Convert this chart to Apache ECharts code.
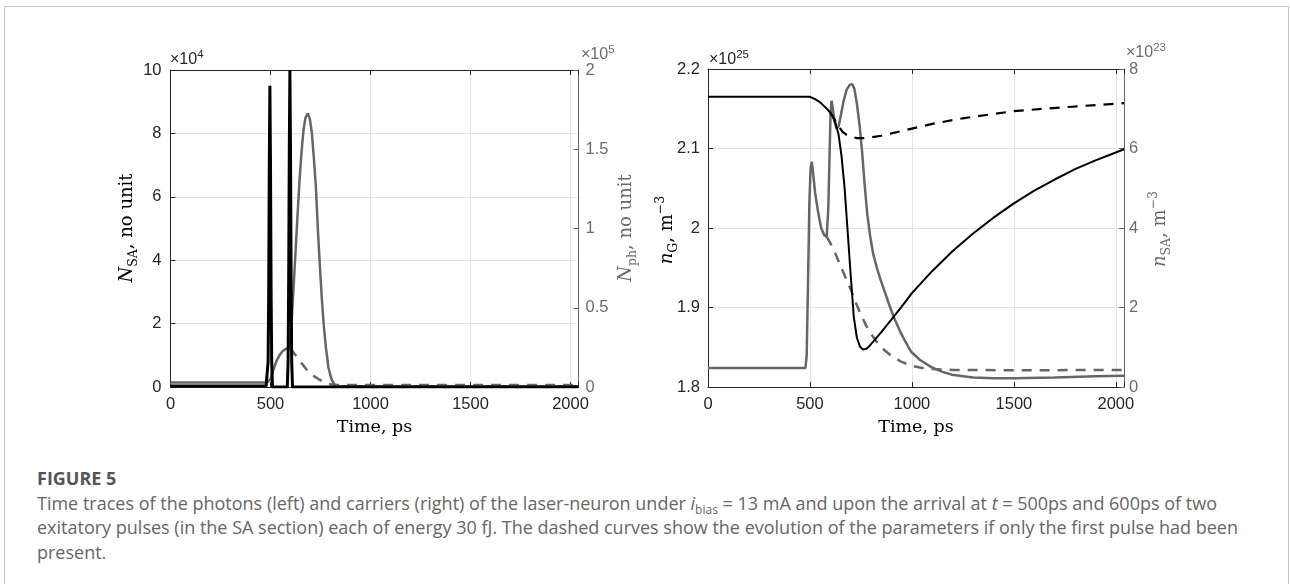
<!DOCTYPE html>
<html>
<head>
<meta charset="utf-8">
<script src="https://cdn.jsdelivr.net/npm/echarts/dist/echarts.min.js"></script>
<style>
html,body{margin:0;padding:0;background:#fff;}
#wrap{position:relative;width:1290px;height:584px;overflow:hidden;background:#fff;}
#frame{position:absolute;left:4px;top:6px;width:1285px;height:640px;border:1px solid #c4c4c4;box-sizing:border-box;}
#chart{position:absolute;left:0;top:0;width:1290px;height:450px;}
#cap{position:absolute;left:37px;top:466px;width:1250px;font-family:'Open Sans','Noto Sans',sans-serif;font-size:18px;line-height:24.5px;color:#666;white-space:nowrap;}
#cap b{font-weight:700;color:#555;}
#cap sub{font-size:12px;vertical-align:-4px;line-height:0;}
</style>
</head>
<body>
<div id="wrap">
<div id="frame"></div>
<div id="chart"></div>
<div id="cap"><b>FIGURE 5</b><br>Time traces of the photons (left) and carriers (right) of the laser-neuron under <i>i</i><sub>bias</sub> = 13 mA and upon the arrival at <i>t</i> = 500ps and 600ps of two<br>exitatory pulses (in the SA section) each of energy 30 fJ. The dashed curves show the evolution of the parameters if only the first pulse had been<br>present.</div>
</div>
<script>
// ---------- data (time in ps) ----------
const xTicks = [0, 500, 1000, 1500, 2000];
const xMax = 2040;
const leftPlotLeftTicks = [0, 2, 4, 6, 8, 10];          // N_SA ×10^4
const leftPlotRightTicks = [0, 0.5, 1, 1.5, 2];          // N_ph ×10^5
const rightPlotLeftTicks = [1.8, 1.9, 2, 2.1, 2.2];      // n_G ×10^25
const rightPlotRightTicks = [0, 2, 4, 6, 8];             // n_SA ×10^23

// Left plot: N_SA (black, ×10^4)
const tNSA = [0, 478, 484, 488, 491, 494, 497, 500, 503, 506, 510, 584, 588, 591, 594, 597, 600, 603, 606, 610, 2040];
const vNSA = [0.03, 0.03, 0.05, 0.8, 3.0, 7.0, 9.5, 7.0, 3.0, 0.8, 0, 0, 0.8, 3.5, 7.5, 10, 7.5, 3.5, 0.8, 0, 0];

// Left plot: N_ph (grey, ×10^5), both pulses
const tNph = [0, 482, 490, 500, 515, 530, 545, 560, 575, 590, 598, 605, 615, 625, 635, 645, 655, 665, 675, 687, 697, 707, 717, 727, 737, 747, 757, 767, 777, 790, 805, 820, 840, 2040];
const vNph = [0.028, 0.028, 0.032, 0.05, 0.11, 0.165, 0.2, 0.225, 0.24, 0.245, 0.27, 0.4, 0.62, 0.85, 1.08, 1.3, 1.48, 1.62, 1.7, 1.726, 1.69, 1.6, 1.44, 1.26, 0.99, 0.76, 0.55, 0.38, 0.25, 0.12, 0.05, 0.015, 0.005, 0.005];

// Left plot: N_ph (grey dashed), first pulse only
const tNph1 = [598, 620, 650, 680, 710, 740, 770, 800, 830, 860, 2040];
const vNph1 = [0.245, 0.21, 0.16, 0.11, 0.075, 0.05, 0.03, 0.018, 0.013, 0.012, 0.012];

// Right plot: n_G (black, ×10^25), both pulses
const tnG = [0, 500, 525, 550, 575, 600, 610, 625, 640, 655, 670, 685, 700, 715, 730, 745, 760, 775, 790, 810, 850, 900, 950, 1000, 1100, 1200, 1300, 1400, 1500, 1600, 1700, 1800, 1900, 2000, 2040];
const vnG = [2.165, 2.165, 2.162, 2.158, 2.152, 2.145, 2.141, 2.132, 2.118, 2.09, 2.05, 1.995, 1.94, 1.888, 1.862, 1.851, 1.847, 1.848, 1.851, 1.857, 1.869, 1.885, 1.901, 1.918, 1.946, 1.971, 1.993, 2.013, 2.031, 2.047, 2.061, 2.074, 2.085, 2.095, 2.099];

// Right plot: n_G (black dashed), first pulse only
const tnG1 = [600, 620, 640, 660, 680, 700, 730, 760, 800, 850, 900, 1000, 1100, 1250, 1500, 1750, 2040];
const vnG1 = [2.145, 2.137, 2.128, 2.121, 2.117, 2.115, 2.113, 2.113, 2.114, 2.116, 2.119, 2.125, 2.131, 2.138, 2.147, 2.152, 2.157];

// Right plot: n_SA (grey, ×10^23), both pulses
const tnSA = [0, 478, 484, 490, 497, 503, 509, 515, 525, 540, 555, 570, 582, 590, 596, 601, 606, 612, 620, 630, 640, 652, 665, 680, 695, 707, 718, 731, 744, 756, 768, 781, 795, 810, 828, 846, 870, 890, 912, 940, 970, 997, 1040, 1095, 1150, 1195, 1300, 1400, 1500, 1700, 1900, 2040];
const vnSA = [0.48, 0.48, 0.8, 2.5, 4.6, 5.5, 5.67, 5.4, 4.9, 4.4, 4.0, 3.82, 3.78, 4.5, 5.8, 6.9, 7.2, 7.0, 6.7, 6.5, 6.55, 6.85, 7.2, 7.48, 7.6, 7.62, 7.5, 7.1, 6.55, 5.9, 5.1, 4.35, 3.8, 3.35, 3.0, 2.7, 2.35, 2.05, 1.75, 1.42, 1.12, 0.88, 0.68, 0.5, 0.38, 0.31, 0.24, 0.22, 0.22, 0.24, 0.27, 0.28];

// Right plot: n_SA (grey dashed), first pulse only
const tnSA1 = [582, 600, 625, 650, 675, 700, 725, 750, 775, 800, 830, 860, 900, 950, 1000, 1050, 1100, 1200, 1500, 2040];
const vnSA1 = [3.78, 3.62, 3.35, 3.05, 2.75, 2.45, 2.12, 1.82, 1.55, 1.33, 1.12, 0.95, 0.78, 0.63, 0.53, 0.48, 0.45, 0.43, 0.42, 0.43];

// ---------- styling ----------
const ink = '#262626';
const grey = '#666666';
const greyText = '#6b6b6b';
const gridColor = '#e4e4e4';
const sans = 'Liberation Sans, Arial, sans-serif';
const serif = 'DejaVu Serif, serif';
const tickFont = 16.5;

function pairs(t, v) { return t.map((x, i) => [x, v[i]]); }

function xAxesFor(g) {
  return [{
    type: 'value', gridIndex: g, position: 'bottom', min: 0, max: xMax, interval: xTicks[1] - xTicks[0],
    axisLine: { show: true, onZero: false, lineStyle: { color: ink, width: 1 } },
    axisTick: { show: true, inside: true, length: 5, lineStyle: { color: ink } },
    axisLabel: { show: true, margin: 9, color: ink, fontFamily: sans, fontSize: tickFont,
      formatter: v => xTicks.indexOf(v) >= 0 ? String(v) : '' },
    splitLine: { show: true, lineStyle: { color: gridColor, width: 1 } }
  }, {
    type: 'value', gridIndex: g, position: 'top', min: 0, max: xMax, interval: xTicks[1] - xTicks[0],
    axisLine: { show: true, onZero: false, lineStyle: { color: ink, width: 1 } },
    axisTick: { show: true, inside: true, length: 5, lineStyle: { color: ink } },
    axisLabel: { show: false }, splitLine: { show: false }
  }];
}

function yAxis(g, pos, ticks, color, grid, margin) {
  return {
    type: 'value', gridIndex: g, position: pos,
    min: ticks[0], max: ticks[ticks.length - 1], interval: +(ticks[1] - ticks[0]).toFixed(6),
    axisLine: { show: true, onZero: false, lineStyle: { color: color, width: 1 } },
    axisTick: { show: true, inside: true, length: 5, lineStyle: { color: color } },
    axisLabel: { show: true, margin: margin, color: color === ink ? ink : greyText, fontFamily: sans, fontSize: tickFont,
      formatter: v => String(+v.toFixed(4)) },
    splitLine: { show: grid, lineStyle: { color: gridColor, width: 1 } }
  };
}

function line(name, xi, yi, t, v, color, width, dashed, z) {
  return {
    name: name, type: 'line', xAxisIndex: xi, yAxisIndex: yi, data: pairs(t, v),
    showSymbol: false, symbol: 'none', smooth: false, clip: true, z: z || 2,
    lineStyle: { color: color, width: width, type: dashed ? [10, 8] : 'solid' },
    emphasis: { disabled: true }, animation: false
  };
}

const labelRich = {
  it: { fontFamily: serif, fontStyle: 'italic', fontSize: 18, lineHeight: 26, verticalAlign: 'middle' },
  sub: { fontFamily: serif, fontSize: 12.5, lineHeight: 12, verticalAlign: 'bottom' },
  sup: { fontFamily: serif, fontSize: 12.5, lineHeight: 12, verticalAlign: 'top' },
  rm: { fontFamily: serif, fontSize: 18, lineHeight: 26, verticalAlign: 'middle' }
};
function richColor(c) {
  const r = {};
  Object.keys(labelRich).forEach(k => { r[k] = Object.assign({}, labelRich[k], { fill: c, color: c }); });
  return r;
}
function vTitle(x, y, text, color) {
  return { type: 'text', x: x, y: y, rotation: Math.PI / 2, silent: true,
    style: { text: text, rich: richColor(color), fill: color, align: 'center', verticalAlign: 'middle' } };
}
function hTitle(x, y, text) {
  return { type: 'text', x: x, y: y, silent: true,
    style: { text: text, fill: '#000', font: '17.5px ' + serif, align: 'center', verticalAlign: 'middle' } };
}
function expLabel(x, y, base, exp, color) {
  return { type: 'text', x: x, y: y, silent: true,
    style: { text: '{a|' + base + '}{p|' + exp + '}', fill: color, align: 'left', verticalAlign: 'middle',
      rich: { a: { fontFamily: sans, fontSize: 16, lineHeight: 22, verticalAlign: 'middle', fill: color },
              p: { fontFamily: sans, fontSize: 11.5, lineHeight: 11, verticalAlign: 'top', fill: color } } } };
}

const chart = echarts.init(document.getElementById('chart'), null, { renderer: 'canvas' });
chart.setOption({
  animation: false,
  backgroundColor: 'transparent',
  grid: [
    { left: 170.5, top: 70, width: 408, height: 317, containLabel: false },
    { left: 708, top: 69, width: 416, height: 318, containLabel: false }
  ],
  xAxis: [...xAxesFor(0), ...xAxesFor(1)],
  yAxis: [
    yAxis(0, 'left', leftPlotLeftTicks, ink, true, 9),
    yAxis(0, 'right', leftPlotRightTicks, grey, false, 7),
    yAxis(1, 'left', rightPlotLeftTicks, ink, true, 8),
    yAxis(1, 'right', rightPlotRightTicks, grey, false, 5)
  ],
  series: [
    line('N_ph, first pulse only', 0, 1, tNph1, vNph1, grey, 2.5, true, 2),
    line('N_ph', 0, 1, tNph, vNph, grey, 2.5, false, 3),
    line('N_SA', 0, 0, tNSA, vNSA, '#000', 3, false, 4),
    line('n_SA, first pulse only', 2, 3, tnSA1, vnSA1, grey, 2.5, true, 2),
    line('n_SA', 2, 3, tnSA, vnSA, grey, 2.5, false, 3),
    line('n_G, first pulse only', 2, 2, tnG1, vnG1, '#000', 2.2, true, 4),
    line('n_G', 2, 2, tnG, vnG, '#000', 2, false, 5)
  ],
  graphic: [
    expLabel(170, 60, '×10', '4', ink),
    expLabel(581, 55, '×10', '5', greyText),
    expLabel(709, 60, '×10', '25', ink),
    expLabel(1126, 53, '×10', '23', greyText),
    vTitle(127, 228, '{it|N}{sub|SA}{rm|, no unit}', '#000'),
    vTitle(626, 228, '{it|N}{sub|ph}{rm|, no unit}', greyText),
    vTitle(667, 230, '{it|n}{sub|G}{rm|, m}{sup|−3}', '#000'),
    vTitle(1160, 229, '{it|n}{sub|SA}{rm|, m}{sup|−3}', greyText),
    hTitle(374.5, 427, 'Time, ps'),
    hTitle(916, 427, 'Time, ps')
  ]
});
</script>
</body>
</html>
